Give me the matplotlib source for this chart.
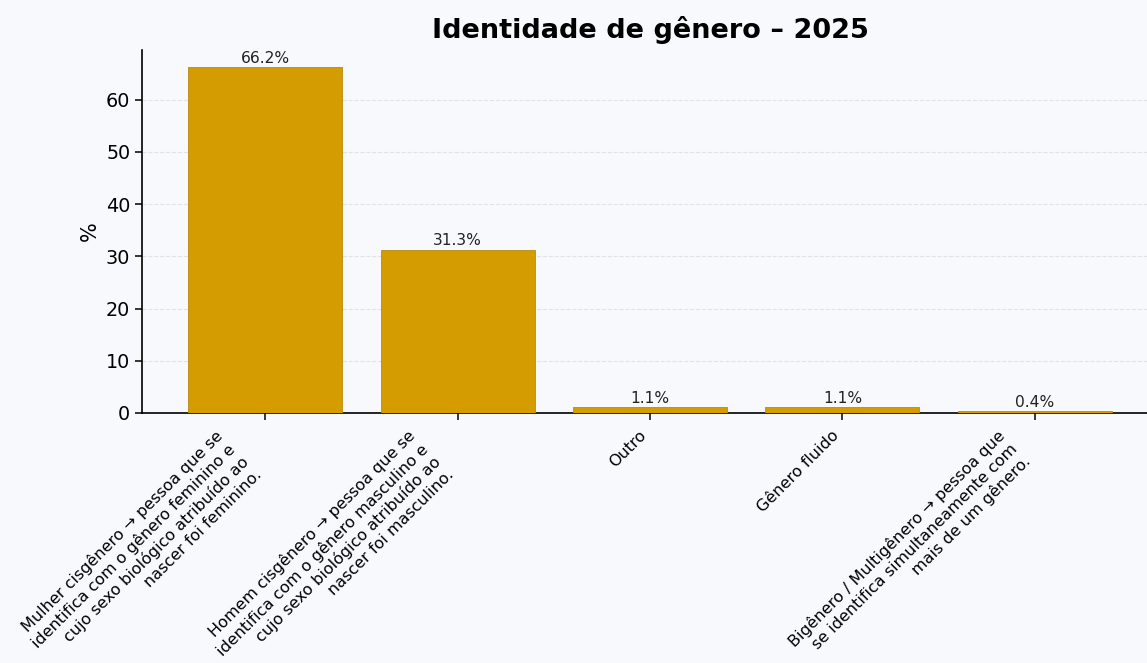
import matplotlib
matplotlib.use("Agg")
import matplotlib.pyplot as plt
from matplotlib.transforms import ScaledTranslation

categories = [
    "Mulher cisgênero → pessoa que se\nidentifica com o gênero feminino e\ncujo sexo biológico atribuído ao\nnascer foi feminino.",
    "Homem cisgênero → pessoa que se\nidentifica com o gênero masculino e\ncujo sexo biológico atribuído ao\nnascer foi masculino.",
    "Outro",
    "Gênero fluido",
    "Bigênero / Multigênero → pessoa que\nse identifica simultaneamente com\nmais de um gênero.",
]
values = [66.2, 31.3, 1.1, 1.1, 0.4]

bg = "#f8f9fc"
fig = plt.figure(figsize=(11.47, 6.63), dpi=100, facecolor=bg)
ax = fig.add_axes([142/1147, 1 - 413/663, 1016/1147, (413-50)/663])
ax.set_facecolor(bg)

x = list(range(len(categories)))
bars = ax.bar(x, values, width=0.8, color="#d59c00", edgecolor="#b88a10", linewidth=0.6, zorder=3)
ax.set_ylim(0, max(values) * 1.05)
ax.set_xticks(x)
ax.set_xticklabels(categories, rotation=45, ha="right", fontsize=11.5)
ax.tick_params(axis="y", labelsize=13.8, length=5, width=1.1)
ax.tick_params(axis="x", length=5, width=1.1)
ax.set_ylabel("%", fontsize=15)
ax.yaxis.grid(True, linestyle="--", color="#e2e2e2", linewidth=0.8, zorder=0)
ax.set_axisbelow(True)
for s in ["top", "right"]:
    ax.spines[s].set_visible(False)
for s in ["left", "bottom"]:
    ax.spines[s].set_linewidth(1.2)

shift = ScaledTranslation(-1/100, -3/100, fig.dpi_scale_trans)
for lab in ax.get_xticklabels():
    lab.set_transform(lab.get_transform() + shift)

for b, v in zip(bars, values):
    ax.annotate(f"{v:.1f}%", (b.get_x() + b.get_width() / 2, v), xytext=(0, 1),
                textcoords="offset points", ha="center", va="bottom", fontsize=11.2, color="#222222")

fig.text(650/1147, 1 - 30/663, "Identidade de gênero – 2025", ha="center", va="center",
         fontsize=19.5, fontweight="bold")

fig.savefig("out.png", dpi=100, facecolor=bg)
